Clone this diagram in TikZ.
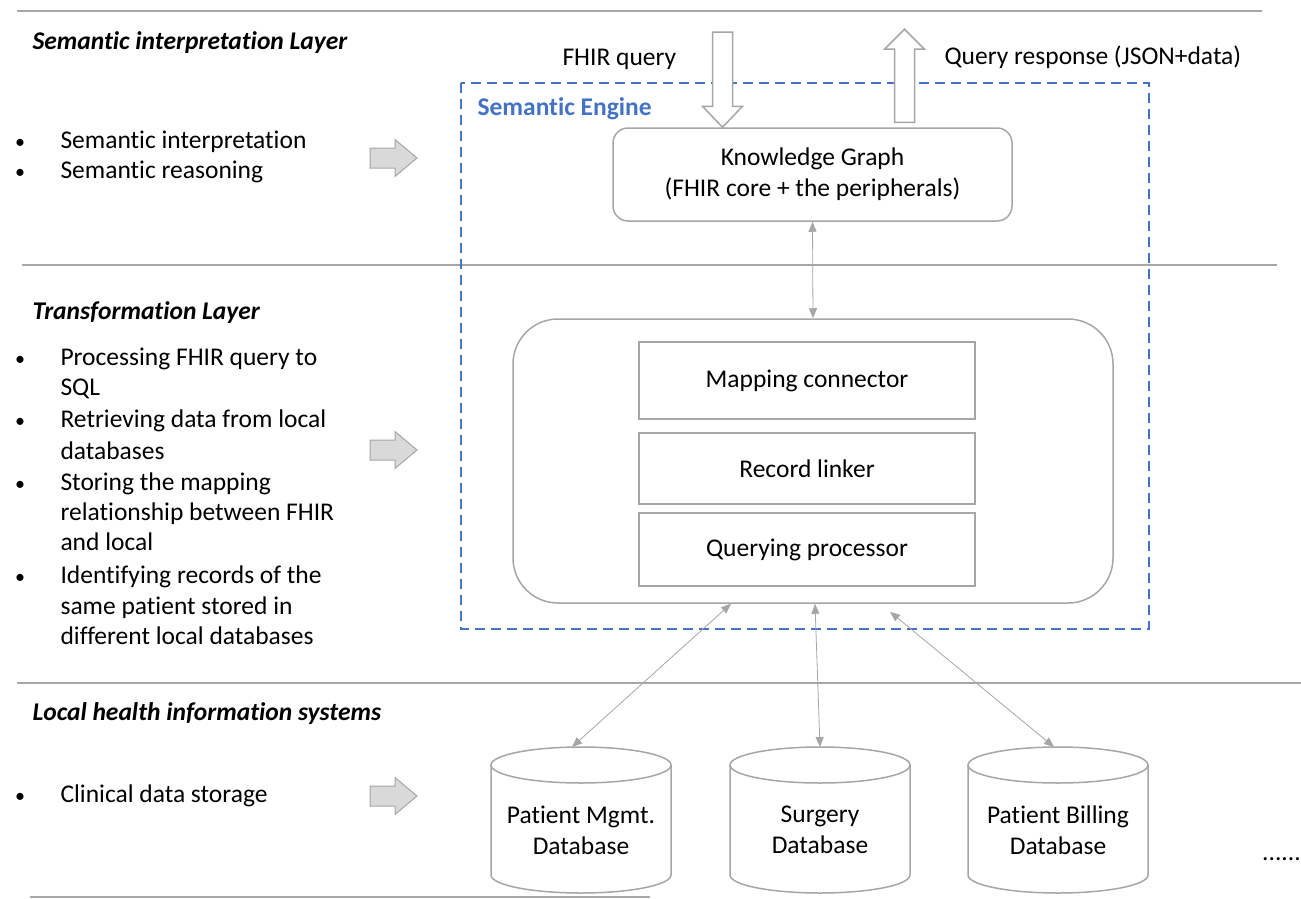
\documentclass[tikz,border=0pt]{standalone}
\usepackage{fontspec}
\setmainfont[Ligatures={NoCommon}]{Carlito}
\usetikzlibrary{arrows.meta,positioning}

\definecolor{linegray}{HTML}{A6A6A6}
\definecolor{arrowfill}{HTML}{D9D9D9}
\definecolor{engineblue}{HTML}{4472C4}
\newcommand{\diagfont}{\fontsize{25.5}{31}\selectfont}

\tikzset{
  layertitle/.style={anchor=base west,font=\diagfont\bfseries\itshape},
  txt/.style={anchor=base west,font=\diagfont},
  kgbox/.style={draw=linegray,line width=1.5pt,rounded corners=15pt,align=center,
    minimum width=399pt,minimum height=93pt,inner sep=0pt,font=\diagfont},
  partbox/.style={draw=linegray,line width=1.5pt,minimum width=336pt,inner sep=0pt,font=\diagfont},
  dbase/.style={draw=linegray,line width=1.5pt},
  dbtext/.style={align=center,font=\diagfont,inner sep=0pt},
  link/.style={draw=linegray,line width=0.8pt,{Triangle[length=10pt,width=8pt]}-{Triangle[length=10pt,width=8pt]}},
  blockarrow/.style={draw=linegray,fill=arrowfill,line width=1pt},
  hollow/.style={draw=linegray,fill=white,line width=1.5pt,line join=miter},
  sep/.style={draw=linegray,line width=1.5pt}
}

\begin{document}
\begin{tikzpicture}[x=1pt,y=-1pt]
  \useasboundingbox (0,0) rectangle (1301,899);

  % layer separators
  \draw[sep] (17,11) -- (1262,11);
  \draw[sep] (22,265) -- (1277,265);
  \draw[sep] (17,683) -- (1301,683);
  \draw[sep] (30,897) -- (650,897);

  % layer titles and bullets
  \node[layertitle] (semtitle) at (29,50) {Semantic interpretation Layer};
  \node[layertitle] (trftitle) at (29,319) {Transformation Layer};
  \node[layertitle] (loctitle) at (29,720) {Local health information systems};

  \foreach \y in {148,178,365,427,490,583,802}
    \node[anchor=base,font=\fontsize{20}{24}\selectfont] (b\y) at (20,\y) {\textbullet};
  \foreach \y/\txt in {148/Semantic interpretation, 178/Semantic reasoning,
      365/Processing FHIR query to, 395/SQL, 427/Retrieving data from local,
      459/databases, 490/Storing the mapping, 520/relationship between FHIR,
      550/and local, 583/Identifying records of the, 614/same patient stored in,
      644/different local databases, 802/Clinical data storage}
    \node[txt] (t\y) at (57,\y) {\txt};

  \foreach \y in {158,450,796}
    \draw[blockarrow] (370,\y-10) -- (395,\y-10) -- (395,\y-18.5) -- (417,\y)
      -- (395,\y+18.5) -- (395,\y+10) -- (370,\y+10) -- cycle;

  % semantic engine
  \draw[engineblue,line width=1.5pt,dash pattern=on 10pt off 6pt] (461,83) rectangle (1149,629);
  \node[anchor=base west,font=\diagfont\bfseries,text=engineblue] (engine) at (474,115) {Semantic Engine};

  \node[kgbox] (kg) at (812.5,174.5) {Knowledge Graph\\(FHIR core + the peripherals)};

  \node[draw=linegray,line width=1.5pt,rounded corners=45pt,minimum width=600pt,
    minimum height=284pt,inner sep=0pt] (proc) at (813,461) {};
  \node[partbox,minimum height=77pt] (mapping) at (807,380.5) {Mapping connector};
  \node[partbox,minimum height=71pt] (linker) at (807,468.5) {Record linker};
  \node[partbox,minimum height=73pt] (querying) at (807,549.5) {Querying processor};

  % query in / response out
  \coordinate (qin) at ([xshift=-90pt]kg.north);
  \coordinate (qout) at ([shift={(92,-5)}]kg.north);
  \draw[hollow] (qin) -- ++(-20,-21) -- ++(10,0) -- ++(0,-74) -- ++(20,0)
    -- ++(0,74) -- ++(10,0) -- cycle;
  \draw[hollow] (qout) ++(-10,0) -- ++(0,-73) -- ++(-10,0) -- ++(20,-20)
    -- ++(20,20) -- ++(-10,0) -- ++(0,73) -- cycle;
  \node[txt] (fhirq) at (559,66) {FHIR query};
  \node[txt] (qresp) at (941,65) {Query response (JSON+data)};

  % local databases
  \foreach \c/\n in {581/pmdb, 820/sgdb, 1058/pbdb}
  {
    \draw[dbase] (\c-90,765) -- (\c-90,875)
      arc[start angle=180,end angle=360,x radius=90pt,y radius=18pt]
      -- (\c+90,765) arc[start angle=0,end angle=180,x radius=90pt,y radius=18pt] -- cycle;
    \draw[dbase] (\c-90,765) arc[start angle=180,end angle=360,x radius=90pt,y radius=18pt];
    \coordinate (\n) at (\c,747);
  }
  \node[dbtext] (pmtxt) at (581,830) {Patient Mgmt.\\Database};
  \node[dbtext] (sgtxt) at (820,830) {Surgery\\Database};
  \node[dbtext] (pbtxt) at (1058,830) {Patient Billing\\Database};
  \node[anchor=base west,font=\diagfont,inner sep=0pt] (more) at (1262,860) {......};

  \draw[link] (kg.south) -- (proc.north);
  \draw[link] ([xshift=-82pt]proc.south) -- ([xshift=-9pt]pmdb);
  \draw[link] ([xshift=2pt]proc.south) -- (sgdb);
  \draw[link] ([shift={(77,8)}]proc.south) -- ([xshift=-4pt]pbdb);
\end{tikzpicture}
\end{document}
